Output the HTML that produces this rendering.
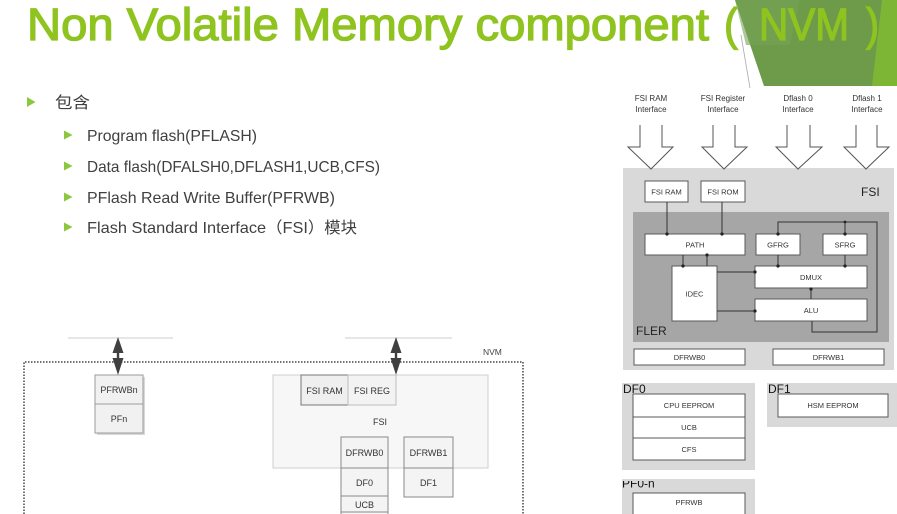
<!DOCTYPE html>
<html><head><meta charset="utf-8"><style>
html,body{margin:0;padding:0;background:#fff;}
svg{display:block;}
text{font-family:"Liberation Sans","Noto Sans CJK SC",sans-serif;}
</style></head><body>
<svg width="897" height="514" viewBox="0 0 897 514" xmlns="http://www.w3.org/2000/svg">
<rect width="897" height="514" fill="#fff"/>
<!-- green decoration -->
<polygon points="735,0 897,0 897,86 764,86" fill="#6d9b4a"/>
<polygon points="735,0 800,0 790,45 746,45" fill="#76a455" opacity="0.6"/>
<polygon points="882,0 897,0 897,86 872,86" fill="#7db534"/>
<line x1="741" y1="35" x2="750" y2="88" stroke="#aaa" stroke-width="0.8"/>
<!-- title -->
<g fill="#8fc31f" stroke="#8fc31f" stroke-width="1.3" font-size="45">
<text x="27" y="40" textLength="682" lengthAdjust="spacingAndGlyphs">Non Volatile Memory component</text>
<text x="724" y="40" textLength="14" lengthAdjust="spacingAndGlyphs">(</text>
<text x="759" y="40" textLength="90" lengthAdjust="spacingAndGlyphs">NVM</text>
<text x="866" y="40" textLength="13" lengthAdjust="spacingAndGlyphs">)</text>
</g>
<!-- bullets -->
<g fill="#8dc63f">
<polygon points="27,97 35.5,102 27,107"/>
<polygon points="64,130.5 72.5,135 64,139.5"/>
<polygon points="64,161.5 72.5,166 64,170.5"/>
<polygon points="64,192.5 72.5,197 64,201.5"/>
<polygon points="64,222.5 72.5,227 64,231.5"/>
</g>
<g fill="#404040" font-size="16">
<text x="55" y="108" textLength="35" lengthAdjust="spacingAndGlyphs">包含</text>
<text x="87" y="141" textLength="170" lengthAdjust="spacingAndGlyphs">Program flash(PFLASH)</text>
<text x="87" y="172" textLength="293" lengthAdjust="spacingAndGlyphs">Data flash(DFALSH0,DFLASH1,UCB,CFS)</text>
<text x="87" y="203" textLength="248" lengthAdjust="spacingAndGlyphs">PFlash Read Write Buffer(PFRWB)</text>
<text x="87" y="233" textLength="270" lengthAdjust="spacingAndGlyphs">Flash Standard Interface（FSI）模块</text>
</g>

<!-- bottom-left diagram -->
<line x1="68" y1="338" x2="173" y2="338" stroke="#ccc" stroke-width="1"/>
<line x1="345" y1="338" x2="452" y2="338" stroke="#ccc" stroke-width="1"/>
<path d="M24,514 L24,362 L523,362 L523,514" fill="none" stroke="#444" stroke-width="1.5" stroke-dasharray="1.5,1.5"/>
<text x="483" y="355" font-size="8.5" fill="#444">NVM</text>
<!-- double arrows -->
<g fill="#404040">
<polygon points="118,337 112.5,353 123.5,353"/>
<rect x="116.8" y="352" width="2.4" height="8"/>
<polygon points="112.5,358 123.5,358 118,375"/>
<polygon points="396,337 390.5,353 401.5,353"/>
<rect x="394.8" y="352" width="2.4" height="8"/>
<polygon points="390.5,358 401.5,358 396,375"/>
</g>
<!-- PF boxes -->
<rect x="97" y="377" width="48" height="58" fill="#d8d8d8"/>
<rect x="95" y="375" width="48" height="29" fill="#f1f1f1" stroke="#9a9a9a"/>
<rect x="95" y="404" width="48" height="29" fill="#f1f1f1" stroke="#9a9a9a"/>
<g font-size="9" fill="#333" text-anchor="middle">
<text x="119" y="393">PFRWBn</text>
<text x="119" y="422">PFn</text>
</g>
<!-- FSI big box -->
<rect x="273" y="375" width="215" height="93" fill="#f7f7f7" stroke="#cfcfcf"/>
<rect x="301" y="375" width="47" height="30" fill="#efefef" stroke="#777"/>
<rect x="348" y="375" width="48" height="30" fill="#f3f3f3" stroke="#bdbdbd"/>
<rect x="341" y="437" width="47" height="31" fill="#f4f4f4" stroke="#8a8a8a"/>
<rect x="341" y="468" width="47" height="28" fill="#f4f4f4" stroke="#8a8a8a"/>
<rect x="341" y="496" width="47" height="16" fill="#f4f4f4" stroke="#8a8a8a"/>
<rect x="341" y="512" width="47" height="6" fill="#f4f4f4" stroke="#8a8a8a"/>
<rect x="404" y="437" width="49" height="31" fill="#f4f4f4" stroke="#8a8a8a"/>
<rect x="404" y="468" width="49" height="29" fill="#f4f4f4" stroke="#8a8a8a"/>
<g font-size="9" fill="#333" text-anchor="middle">
<text x="324.5" y="394">FSI RAM</text>
<text x="372" y="394">FSI REG</text>
<text x="380" y="425">FSI</text>
<text x="364.5" y="456">DFRWB0</text>
<text x="364.5" y="486">DF0</text>
<text x="364.5" y="508">UCB</text>
<text x="428.5" y="456">DFRWB1</text>
<text x="428.5" y="486">DF1</text>
</g>

<!-- right diagram -->
<g font-size="8" fill="#333" text-anchor="middle">
<text x="651" y="101">FSI RAM</text><text x="651" y="112">Interface</text>
<text x="723" y="101">FSI Register</text><text x="723" y="112">Interface</text>
<text x="798" y="101">Dflash 0</text><text x="798" y="112">Interface</text>
<text x="867" y="101">Dflash 1</text><text x="867" y="112">Interface</text>
</g>
<rect x="623" y="168" width="271" height="202" fill="#d9d9d9"/>
<g fill="#fff" stroke="#555" stroke-width="1">
<path d="M640,125 L640,147 L628,147 L651,169 L673,147 L662,147 L662,125"/>
<path d="M713,125 L713,147 L702,147 L724,169 L747,147 L735,147 L735,125"/>
<path d="M787,125 L787,147 L776,147 L798,169 L822,147 L810,147 L810,125"/>
<path d="M856,125 L856,147 L844,147 L866,169 L889,147 L877,147 L877,125"/>
</g>
<rect x="633" y="212" width="256" height="130" fill="#a6a6a6"/>
<g fill="#fff" stroke="#595959" stroke-width="1">
<rect x="645" y="181" width="43" height="21"/>
<rect x="701" y="181" width="44" height="21"/>
<rect x="645" y="234" width="100" height="21"/>
<rect x="756" y="234" width="44" height="21"/>
<rect x="823" y="234" width="44" height="21"/>
<rect x="672" y="266" width="45" height="55"/>
<rect x="755" y="266" width="112" height="22"/>
<rect x="755" y="299" width="112" height="22"/>
<rect x="634" y="349" width="111" height="16"/>
<rect x="773" y="349" width="111" height="16"/>
</g>
<g stroke="#333" stroke-width="1" fill="none">
<line x1="667" y1="202" x2="667" y2="234"/>
<line x1="722" y1="202" x2="722" y2="234"/>
<line x1="683" y1="255" x2="683" y2="266"/>
<line x1="707" y1="255" x2="707" y2="266"/>
<polyline points="778,234 778,222 877,222 877,332 812,332 812,321"/>
<line x1="845" y1="222" x2="845" y2="234"/>
<line x1="778" y1="255" x2="778" y2="266"/>
<line x1="845" y1="255" x2="845" y2="266"/>
<line x1="717" y1="272" x2="755" y2="272"/>
<line x1="717" y1="311" x2="755" y2="311"/>
<line x1="811" y1="288" x2="811" y2="299"/>
</g>
<g fill="#222">
<circle cx="667" cy="234" r="1.6"/><circle cx="722" cy="234" r="1.6"/>
<circle cx="683" cy="266" r="1.6"/><circle cx="707" cy="255" r="1.6"/>
<circle cx="778" cy="234" r="1.6"/><circle cx="845" cy="234" r="1.6"/>
<circle cx="778" cy="266" r="1.6"/><circle cx="845" cy="266" r="1.6"/>
<circle cx="755" cy="272" r="1.6"/><circle cx="755" cy="311" r="1.6"/>
<circle cx="811" cy="289" r="1.6"/><circle cx="845" cy="222" r="1.4"/>
</g>
<g font-size="7.5" fill="#333" text-anchor="middle">
<text x="666.5" y="194.5">FSI RAM</text>
<text x="723" y="194.5">FSI ROM</text>
<text x="695" y="247.5">PATH</text>
<text x="778" y="247.5">GFRG</text>
<text x="845" y="247.5">SFRG</text>
<text x="694.5" y="296.5">IDEC</text>
<text x="811" y="280">DMUX</text>
<text x="811" y="313">ALU</text>
<text x="689.5" y="360">DFRWB0</text>
<text x="828.5" y="360">DFRWB1</text>
</g>
<text x="861" y="196" font-size="12" fill="#222">FSI</text>
<text x="636" y="335" font-size="12" fill="#222">FLER</text>

<!-- DF0 / DF1 / PF -->
<rect x="622" y="383" width="133" height="87" fill="#d9d9d9"/>
<rect x="767" y="383" width="130" height="44" fill="#d9d9d9"/>
<rect x="622" y="479" width="133" height="35" fill="#d9d9d9"/>
<g fill="#fff" stroke="#595959" stroke-width="1">
<rect x="633" y="394" width="112" height="23"/>
<rect x="633" y="417" width="112" height="21"/>
<rect x="633" y="438" width="112" height="22"/>
<rect x="778" y="394" width="110" height="23"/>
<rect x="633" y="493" width="112" height="25"/>
</g>
<g font-size="12" fill="#111">
<text x="623" y="393">DF0</text>
<text x="768" y="393">DF1</text>
</g>
<svg x="620" y="481" width="60" height="8" overflow="hidden"><text x="2" y="6.5" font-size="12" fill="#111">PF0-n</text></svg>
<g font-size="7.5" fill="#333" text-anchor="middle">
<text x="689" y="408">CPU EEPROM</text>
<text x="689" y="430">UCB</text>
<text x="689" y="452">CFS</text>
<text x="833" y="408">HSM EEPROM</text>
<text x="689" y="505">PFRWB</text>
</g>
</svg>
</body></html>
